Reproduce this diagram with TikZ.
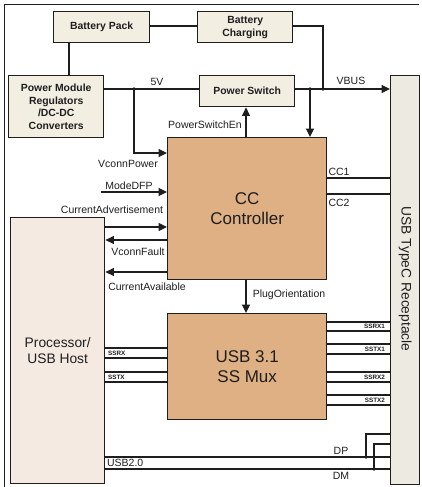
\documentclass[tikz,border=0pt]{standalone}
\usepackage{fontspec}
\setmainfont{Liberation Sans}
\usetikzlibrary{arrows.meta}
\definecolor{lightbox}{HTML}{F3EEE2}
\definecolor{tanbox}{HTML}{DFB083}
\definecolor{procfill}{HTML}{F4EAE1}
\definecolor{recfill}{HTML}{EDEAE1}
\definecolor{ink}{HTML}{1E1E1E}
\begin{document}
\begin{tikzpicture}[x=1pt,y=-1pt,
  line width=1.2pt, draw=ink,
  every node/.style={text=ink},
  smallbox/.style={draw=ink, fill=lightbox, line width=1.4pt, anchor=north west, inner sep=0pt,
     align=center, font=\bfseries\fontsize{10.4}{12.8}\selectfont},
  bigbox/.style={draw=ink, fill=tanbox, line width=1.4pt, anchor=north west, inner sep=0pt,
     align=center, font=\fontsize{17}{20.5}\selectfont},
  sidebox/.style={draw=ink, line width=1.4pt, anchor=north west, inner sep=0pt, align=center,
     font=\fontsize{13.8}{16}\selectfont},
  lbl/.style={font=\fontsize{10.5}{12}\selectfont, inner sep=0.5pt},
  tiny/.style={font=\bfseries\fontsize{6.3}{7}\selectfont, inner sep=0.5pt},
  arr/.style={-{Triangle[length=8.5pt,width=8pt]}},
  dot/.style={fill=ink}
]
\useasboundingbox (0,0) rectangle (421,487);
% outer frame
\draw[line width=1pt] (4,487) -- (4,5) -- (419,5);

% boxes
\node[smallbox, minimum width=96pt, minimum height=31pt] (bp) at (53,11) {Battery Pack};
\node[smallbox, minimum width=95pt, minimum height=31pt] (bc) at (197,11) {Battery\\Charging};
\node[smallbox, minimum width=95pt, minimum height=62pt] (pm) at (8,75) {Power Module\\Regulators\\/DC-DC\\Converters};
\node[smallbox, minimum width=95pt, minimum height=31pt] (ps) at (199,75) {Power Switch};
\node[bigbox, minimum width=159pt, minimum height=142pt] (cc) at (167,137) {CC\\Controller};
\node[bigbox, minimum width=159pt, minimum height=106pt] (mux) at (167,313) {USB 3.1\\SS Mux};
\node[sidebox, fill=procfill, minimum width=94pt, minimum height=266pt] (proc) at (10,217) {Processor/\\USB Host};
\node[sidebox, fill=recfill, minimum width=29pt, minimum height=409pt] (rec) at (390,75) {};
\node[font=\fontsize{13.8}{16}\selectfont, rotate=-90] (rectext) at (rec.center |- 0,279) {USB TypeC Receptacle};

% junction coordinates
\coordinate (j5) at (134,89);
\coordinate (jv) at (310,89);
\coordinate (jb) at (323,89);
\coordinate (jcharge) at (323,26);
\coordinate (jen) at (246,0);
\coordinate (mode0) at (101,192);

% battery / power connections
\draw (bp.east |- jcharge) -- (bc.west |- jcharge);
\draw (bc.east |- jcharge) -- (jcharge) -- (jb);
\draw (69,0 |- bp.south) -- (69,0 |- pm.north);
\draw (pm.east |- j5) -- (ps.west |- j5);
\draw[arr] (ps.east |- jv) -- (rec.west |- jv);
\draw[arr] (jv) -- (jv |- cc.north);
\draw[arr] (jen |- cc.north) -- (jen |- ps.south);
\draw[arr] (j5) -- (j5 |- 0,153) -- (cc.west |- 0,153);
\fill[dot] (j5) circle (1.8pt);
\fill[dot] (jv) circle (1.8pt);
\fill[dot] (jb) circle (1.8pt);

% CC controller signals
\draw[arr] (mode0) -- (cc.west |- mode0);
\draw[arr] (proc.east |- 0,227) -- (cc.west |- 0,227);
\draw[arr] (cc.west |- 0,240) -- (proc.east |- 0,240);
\draw[arr] (cc.west |- 0,272) -- (proc.east |- 0,272);
\draw (cc.east |- 0,178) -- (rec.west |- 0,178);
\draw (cc.east |- 0,194) -- (rec.west |- 0,194);
\draw[arr] (jen |- cc.south) -- (jen |- mux.north);

% SS mux lanes
\foreach \yy in {348,358,372,382}{
  \draw (proc.east |- 0,\yy) -- (mux.west |- 0,\yy);
}
\foreach \yy in {322,331,344,354,372,382,395,405}{
  \draw (mux.east |- 0,\yy) -- (rec.west |- 0,\yy);
}

% USB2.0
\coordinate (jdp) at (366,457);
\coordinate (jdm) at (374,469);
\draw (proc.east |- jdp) -- (rec.west |- jdp);
\draw (proc.east |- jdm) -- (rec.west |- jdm);
\draw (jdp) -- (jdp |- 0,434) -- (rec.west |- 0,434);
\draw (jdm) -- (jdm |- 0,444) -- (rec.west |- 0,444);
\fill[dot] (jdp) circle (1.8pt);
\fill[dot] (jdm) circle (1.8pt);

% labels
\node[lbl] (l5v) at (157,82) {5V};
\node[lbl] (lvbus) at (351,81) {VBUS};
\node[lbl] (len) at (205,125) {PowerSwitchEn};
\node[lbl] (lvp) at (128,164) {VconnPower};
\node[lbl] (lmode) at (129,186) {ModeDFP};
\node[lbl] (ladv) at (112,210) {CurrentAdvertisement};
\node[lbl] (lfault) at (138,252) {VconnFault};
\node[lbl] (lavail) at (147,287) {CurrentAvailable};
\node[lbl] (lcc1) at (339,172) {CC1};
\node[lbl] (lcc2) at (339,203) {CC2};
\node[lbl] (lplug) at (289,295) {PlugOrientation};
\node[tiny, anchor=west] (lssrx) at (107,353) {SSRX};
\node[tiny, anchor=west] (lsstx) at (107,377) {SSTX};
\node[tiny, anchor=east] (lssrx1) at (386,326.5) {SSRX1};
\node[tiny, anchor=east] (lsstx1) at (386,349) {SSTX1};
\node[tiny, anchor=east] (lssrx2) at (386,377) {SSRX2};
\node[tiny, anchor=east] (lsstx2) at (386,400) {SSTX2};
\node[lbl, anchor=west] (lusb2) at (106,463) {USB2.0};
\node[lbl] (ldp) at (341,451) {DP};
\node[lbl] (ldm) at (341,476) {DM};
\end{tikzpicture}
\end{document}
